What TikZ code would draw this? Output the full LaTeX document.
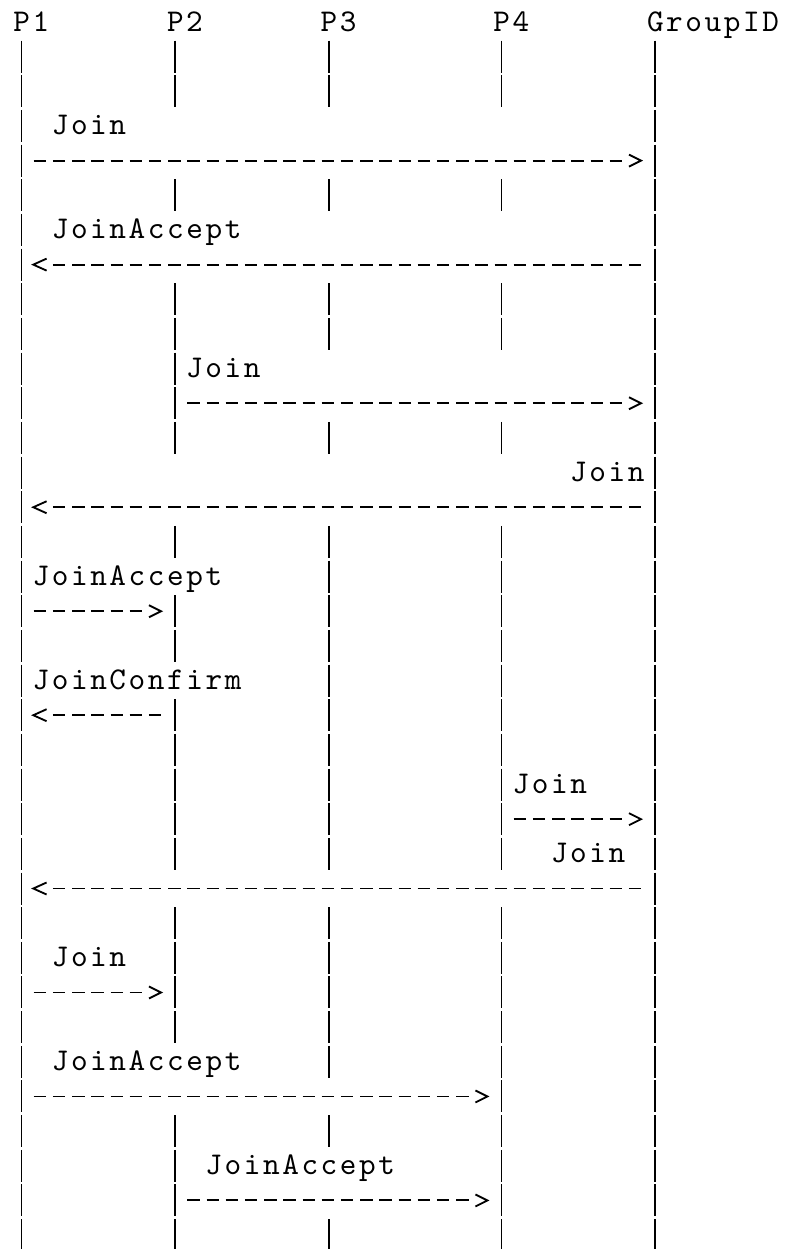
\documentclass[tikz,border=0pt]{standalone}
\usepackage{fontspec}
\newfontfamily\seqfont{lmmono10-regular.otf}[LetterSpace=8.2]
\usepackage{tikz}
\newcommand\colx[1]{11.9+19.2*(#1)}
\newcommand\rowy[1]{22+34.66*((#1)-1)}

\begin{document}
\begin{tikzpicture}[x=0.6pt,y=-0.6pt,
  lbl/.style={anchor=base west,inner sep=0pt,xshift=0.7pt,font=\seqfont\fontsize{19pt}{19pt}\selectfont},
  pipe/.style={line width=1.1pt},
  msg/.style={line width=1.15pt,dash pattern=on 7.5pt off 4.02pt},
  chev/.style={line width=1.1pt,line join=miter}]
\useasboundingbox (0,0) rectangle (784,1249);
\foreach \t/\c in {P1/0,P2/8,P3/16,P4/25,GroupID/33}
  \node[lbl] (hd\c) at ({\colx{\c}},{\rowy{1}+9}) {\t};
\foreach \r in {2,...,36}{
  \draw[pipe] ({\colx{0}+9.6},{\rowy{\r}-16}) -- ++(0,32);
  \draw[pipe] ({\colx{33}+9.6},{\rowy{\r}-16}) -- ++(0,32);
}
\foreach \r in {2,3,6,9,10,11,12,13,16,18,19,21,22,23,24,25,27,28,29,30,33,34,35,36}
  \draw[pipe] ({\colx{8}+9.6},{\rowy{\r}-16}) -- ++(0,32);
\foreach \r in {2,3,6,9,10,13,16,17,18,19,20,21,22,23,24,25,27,28,29,30,31,33,36}
  \draw[pipe] ({\colx{16}+9.6},{\rowy{\r}-16}) -- ++(0,32);
\foreach \r in {2,3,6,9,10,13,16,17,18,19,20,21,22,23,24,25,27,28,29,30,31,32,33,34,35,36}
  \draw[pipe] ({\colx{25}+9.6},{\rowy{\r}-16}) -- ++(0,32);
\foreach \r/\c/\t [count=\i] in {4/2/Join,7/2/JoinAccept,11/9/Join,14/29/Join,17/1/JoinAccept,
    20/1/JoinConfirm,23/26/Join,25/28/Join,28/2/Join,31/2/JoinAccept,34/10/JoinAccept}
  \node[lbl] (lab\i) at ({\colx{\c}},{\rowy{\r}+9}) {\t};
\foreach \r/\a/\b in {5/1/31,12/9/31,18/1/6,24/26/31,29/1/6,32/1/23,35/9/23}{
  \coordinate (s\r) at ({\colx{\a}+2.6},{\rowy{\r}});
  \coordinate (e\r) at ({\colx{\b}+15.1},{\rowy{\r}});
  \draw[msg] (s\r) -- (e\r);
  \draw[chev] ({\colx{\b+1}+2.7},{\rowy{\r}-6}) -- ({\colx{\b+1}+14.7},{\rowy{\r}}) -- ({\colx{\b+1}+2.7},{\rowy{\r}+6});
}
\foreach \r/\a/\b in {8/2/32,15/2/32,21/2/7,26/2/32}{
  \coordinate (s\r) at ({\colx{\a}+2.6},{\rowy{\r}});
  \coordinate (e\r) at ({\colx{\b}+15.1},{\rowy{\r}});
  \draw[msg] (s\r) -- (e\r);
  \draw[chev] ({\colx{\a-1}+15.5},{\rowy{\r}-6}) -- ({\colx{\a-1}+2.2},{\rowy{\r}}) -- ({\colx{\a-1}+15.5},{\rowy{\r}+6});
}
\end{tikzpicture}
\end{document}
